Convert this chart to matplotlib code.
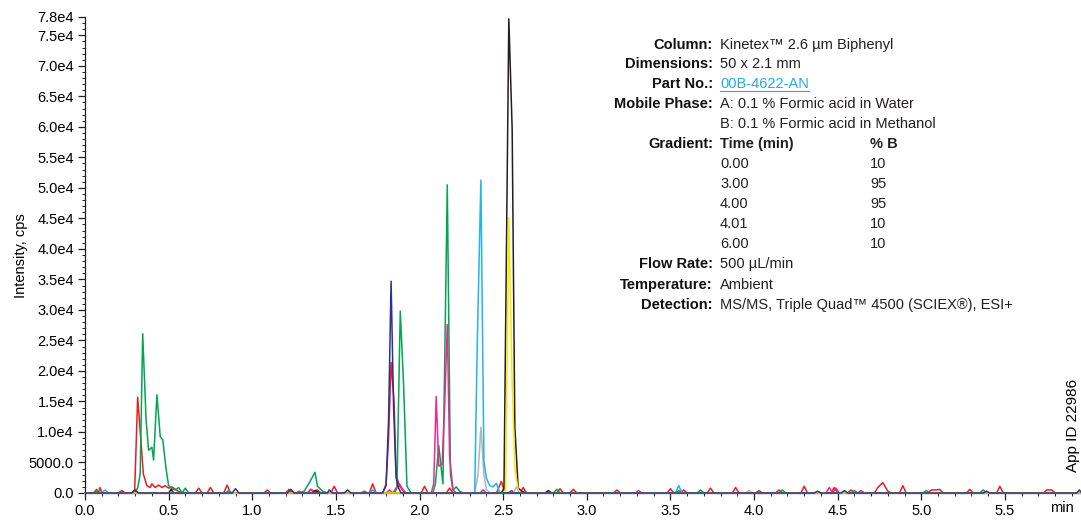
import matplotlib
matplotlib.use("Agg")
import matplotlib.pyplot as plt
import numpy as np
from matplotlib.ticker import MultipleLocator, FixedLocator, FuncFormatter
from matplotlib.lines import Line2D

plt.rcParams['font.family'] = ['Liberation Sans', 'DejaVu Sans']

W, H = 1081, 520

# chromatogram traces, (time in min, intensity in cps)
red = [(0.00, 0), (0.05, 0), (0.07, 600), (0.08, 0), (0.09, 900), (0.10, 0), (0.20, 0), (0.22, 400),
       (0.24, 0), (0.28, 0), (0.297, 500), (0.315, 15700), (0.349, 3100), (0.37, 1200), (0.39, 900),
       (0.40, 1500), (0.42, 900), (0.44, 1300), (0.46, 900), (0.48, 1200), (0.50, 800), (0.52, 1000),
       (0.55, 400), (0.58, 0), (0.66, 0), (0.68, 800), (0.70, 0), (0.73, 0), (0.75, 900), (0.77, 0),
       (0.83, 0), (0.85, 1300), (0.87, 0), (1.07, 0), (1.09, 500), (1.11, 0), (1.20, 0), (1.22, 600),
       (1.24, 0), (1.33, 0), (1.35, 600), (1.37, 300), (1.39, 500), (1.41, 0), (1.47, 0), (1.49, 1100),
       (1.51, 0), (1.70, 0), (1.72, 1500), (1.74, 0), (1.78, 0), (1.80, 1500), (1.815, 9000),
       (1.83, 21400), (1.848, 15000), (1.86, 3000), (1.88, 1200), (1.90, 400), (1.92, 0), (2.01, 0),
       (2.03, 1100), (2.05, 0), (2.16, 0), (2.18, 800), (2.20, 0), (2.46, 0), (2.49, 1900), (2.51, 0),
       (2.53, 0), (2.55, 400), (2.57, 0), (2.60, 0), (2.62, 900), (2.64, 0), (2.82, 0), (2.84, 700),
       (2.86, 0), (2.90, 0), (2.92, 600), (2.94, 0), (3.16, 0), (3.18, 500), (3.20, 0), (3.48, 0),
       (3.50, 700), (3.52, 0), (3.56, 0), (3.58, 500), (3.60, 0), (3.72, 0), (3.74, 800), (3.76, 0),
       (3.87, 0), (3.89, 900), (3.91, 0), (4.01, 0), (4.03, 400), (4.05, 0), (4.13, 0), (4.15, 500),
       (4.17, 0), (4.28, 0), (4.30, 1100), (4.32, 0), (4.46, 0), (4.48, 900), (4.50, 0), (4.56, 0),
       (4.58, 500), (4.60, 0), (4.72, 0), (4.74, 900), (4.77, 1700), (4.80, 300), (4.82, 0), (4.87, 0),
       (4.89, 1200), (4.91, 0), (5.04, 0), (5.06, 500), (5.09, 500), (5.11, 600), (5.13, 0), (5.27, 0),
       (5.29, 600), (5.31, 0), (5.45, 0), (5.47, 1100), (5.49, 0), (5.73, 0), (5.75, 500), (5.78, 500),
       (5.80, 0), (5.96, 0)]

green = [(0.00, 0), (0.06, 0), (0.07, 500), (0.08, 0), (0.29, 0), (0.315, 800), (0.33, 3100),
         (0.345, 26100), (0.365, 12100), (0.38, 7000), (0.40, 7500), (0.41, 5400), (0.43, 16100),
         (0.45, 9200), (0.465, 8700), (0.484, 4100), (0.50, 1200), (0.52, 700), (0.54, 500), (0.56, 900),
         (0.58, 0), (0.60, 800), (0.62, 0), (0.84, 0), (0.86, 400), (0.88, 0), (1.28, 0), (1.31, 300),
         (1.34, 1600), (1.375, 3400), (1.39, 1100), (1.42, 300), (1.45, 0), (1.65, 0), (1.67, 300),
         (1.69, 0), (1.85, 0), (1.865, 800), (1.885, 29800), (1.905, 17600), (1.925, 1100), (1.95, 0),
         (2.08, 0), (2.095, 1500), (2.115, 7800), (2.14, 1500), (2.166, 50500), (2.185, 3000),
         (2.20, 500), (2.22, 1000), (2.24, 300), (2.26, 0), (2.80, 0), (2.82, 600), (2.84, 0),
         (3.53, 0), (3.55, 400), (3.57, 0), (3.66, 0), (3.68, 500), (3.70, 0), (4.15, 0), (4.17, 500),
         (4.19, 0), (4.58, 0), (4.60, 400), (4.62, 0), (5.01, 0), (5.03, 400), (5.05, 0), (5.35, 0),
         (5.37, 500), (5.39, 0), (5.96, 0)]

pink = [(0.00, 0), (0.28, 0), (0.30, 400), (0.32, 0), (1.26, 0), (1.28, 300), (1.30, 0), (1.33, 0),
        (1.35, 600), (1.37, 0), (1.80, 0), (1.82, 500), (1.84, 0), (1.86, 800), (1.88, 1500),
        (1.90, 600), (1.92, 0), (2.07, 0), (2.085, 1500), (2.10, 15800), (2.115, 4400), (2.135, 4700),
        (2.15, 14000), (2.166, 27600), (2.18, 6000), (2.20, 500), (2.22, 0), (2.36, 0), (2.38, 500),
        (2.40, 0), (3.29, 0), (3.31, 400), (3.33, 0), (4.43, 0), (4.45, 900), (4.47, 0), (4.49, 800),
        (4.51, 0), (4.62, 0), (4.64, 400), (4.66, 0), (5.96, 0)]

cyan = [(0.00, 0), (0.10, 0), (0.12, 500), (0.14, 0), (1.70, 0), (1.72, 500), (1.74, 0), (2.33, 0),
        (2.345, 24000), (2.367, 51300), (2.385, 5200), (2.40, 2400), (2.42, 1200), (2.44, 1000),
        (2.46, 1600), (2.48, 0), (3.53, 0), (3.55, 1200), (3.57, 0), (5.96, 0)]

gray = [(0.00, 0), (2.33, 0), (2.35, 3000), (2.367, 10800), (2.385, 3000), (2.40, 600), (2.42, 0),
        (2.56, 0), (2.58, 1000), (2.60, 0), (3.95, 0), (3.97, 400), (3.99, 0), (5.96, 0)]

black = [(0.00, 0), (0.50, 0), (0.515, 600), (0.53, 0), (1.36, 0), (1.38, 400), (1.40, 0), (2.49, 0),
         (2.505, 800), (2.534, 77700), (2.554, 59600), (2.57, 10800), (2.59, 800), (2.61, 300),
         (2.64, 0), (2.75, 0), (2.77, 400), (2.79, 0), (5.96, 0)]

yellow = [(0.00, 0), (2.50, 0), (2.515, 500), (2.534, 45100), (2.554, 18000), (2.57, 4000),
          (2.59, 500), (2.61, 0), (5.96, 0)]

navy = [(0.00, 0), (0.28, 0), (0.30, 500), (0.32, 0), (0.88, 0), (0.90, 700), (0.92, 0), (1.21, 0),
        (1.23, 600), (1.25, 0), (1.45, 0), (1.46, 500), (1.48, 0), (1.55, 0), (1.57, 500), (1.59, 0),
        (1.78, 0), (1.80, 1200), (1.815, 12000), (1.83, 34700), (1.845, 14000), (1.86, 2500),
        (1.875, 800), (1.89, 0), (4.36, 0), (4.38, 300), (4.40, 0), (4.52, 0), (4.54, 400), (4.56, 0),
        (5.37, 0), (5.39, 300), (5.41, 0), (5.93, 0), (5.945, 500), (5.96, 0)]

traces = [
    (red, '#ed1c24'),
    (green, '#00a651'),
    (pink, '#ec2a8c'),
    (gray, '#b5b5b5'),
    (cyan, '#1fb5ee'),
    (black, '#231f20'),
    (yellow, '#ffe600'),
    (navy, '#2e3192'),
]

y_ticks = [0, 5000, 10000, 15000, 20000, 25000, 30000, 35000, 40000, 45000,
           50000, 55000, 60000, 65000, 70000, 75000, 78000]
y_labels = ['0.0', '5000.0', '1.0e4', '1.5e4', '2.0e4', '2.5e4', '3.0e4', '3.5e4', '4.0e4',
            '4.5e4', '5.0e4', '5.5e4', '6.0e4', '6.5e4', '7.0e4', '7.5e4', '7.8e4']

info_labels = ['Column:', 'Dimensions:', 'Part No.:', 'Mobile Phase:', '', 'Gradient:',
               '', '', '', '', '', 'Flow Rate:', 'Temperature:', 'Detection:']
info_values = ['Kinetex\u2122 2.6 \u00b5m Biphenyl', '50 x 2.1 mm', '00B-4622-AN',
               'A: 0.1 % Formic acid in Water', 'B: 0.1 % Formic acid in Methanol',
               'Time (min)', '0.00', '3.00', '4.00', '4.01', '6.00',
               '500 \u00b5L/min', 'Ambient', 'MS/MS, Triple Quad\u2122 4500 (SCIEX\u00ae), ESI+']
grad_b = ['% B', '10', '95', '95', '10', '10']

fig = plt.figure(figsize=(W / 100, H / 100), dpi=100)
ax = fig.add_axes([85 / W, (H - 493) / H, (W - 85) / W, (493 - 17) / H])

for i, (pts, c) in enumerate(traces):
    arr = np.array(pts)
    ax.plot(arr[:, 0], arr[:, 1], color=c, lw=1.1, zorder=2 + i, clip_on=False)

ax.set_xlim(0, 5.955)
ax.set_ylim(0, 78000)
for s in ['top', 'right']:
    ax.spines[s].set_visible(False)
for s in ['left', 'bottom']:
    ax.spines[s].set_linewidth(0.9)
    ax.spines[s].set_color('#231f20')

ax.xaxis.set_major_locator(MultipleLocator(0.5))
ax.xaxis.set_minor_locator(MultipleLocator(0.1))
ax.xaxis.set_major_formatter(FuncFormatter(lambda v, p: f'{v:.1f}' if v < 5.75 else ''))
ax.yaxis.set_major_locator(FixedLocator(y_ticks))
ax.set_yticklabels(y_labels)
ax.yaxis.set_minor_locator(MultipleLocator(1000))
ax.tick_params(which='major', length=5, width=0.9, labelsize=10.5, pad=3, color='#231f20')
ax.tick_params(which='minor', length=2.5, width=0.7, color='#231f20')

def px(x, y):
    return x / W, 1 - y / H

fig.text(*px(21, 256), 'Intensity, cps', rotation=90, ha='center', va='center', fontsize=10.5)
fig.text(*px(1062, 508), 'min', ha='center', va='center', fontsize=10.5)
fig.text(*px(1073, 472), 'App ID 22986', rotation=90, ha='center', va='bottom', fontsize=11)

narrow = ['Liberation Sans Narrow', 'Liberation Sans', 'DejaVu Sans']
row_y = [45, 64, 84, 104, 124, 144, 164, 184, 204, 224, 244, 264, 285, 305]
part_txt = None
for i, (lab, val) in enumerate(zip(info_labels, info_values)):
    y = row_y[i]
    if lab:
        fig.text(*px(713, y), lab, ha='right', va='center', fontsize=10.5,
                 fontweight='bold', family=narrow, color='#111111')
    bold = (val == 'Time (min)')
    col = '#29a9e0' if lab == 'Part No.:' else '#231f20'
    t = fig.text(*px(720, y), val, ha='left', va='center', fontsize=10.5,
                 fontweight='bold' if bold else 'normal', family=narrow, color=col)
    if lab == 'Part No.:':
        part_txt = t
for j, b in enumerate(grad_b):
    fig.text(*px(870, row_y[5 + j]), b, ha='left', va='center', fontsize=10.5,
             fontweight='bold' if j == 0 else 'normal', family=narrow, color='#231f20')

# underline for the part number link
r = fig.canvas.get_renderer()
bb = part_txt.get_window_extent(r)
x0, x1 = bb.x0 / W, bb.x1 / W
fig.add_artist(Line2D([x0, x1], [1 - 91 / H, 1 - 91 / H], color='#29a9e0', lw=0.8))

fig.savefig('out.png', dpi=100)
